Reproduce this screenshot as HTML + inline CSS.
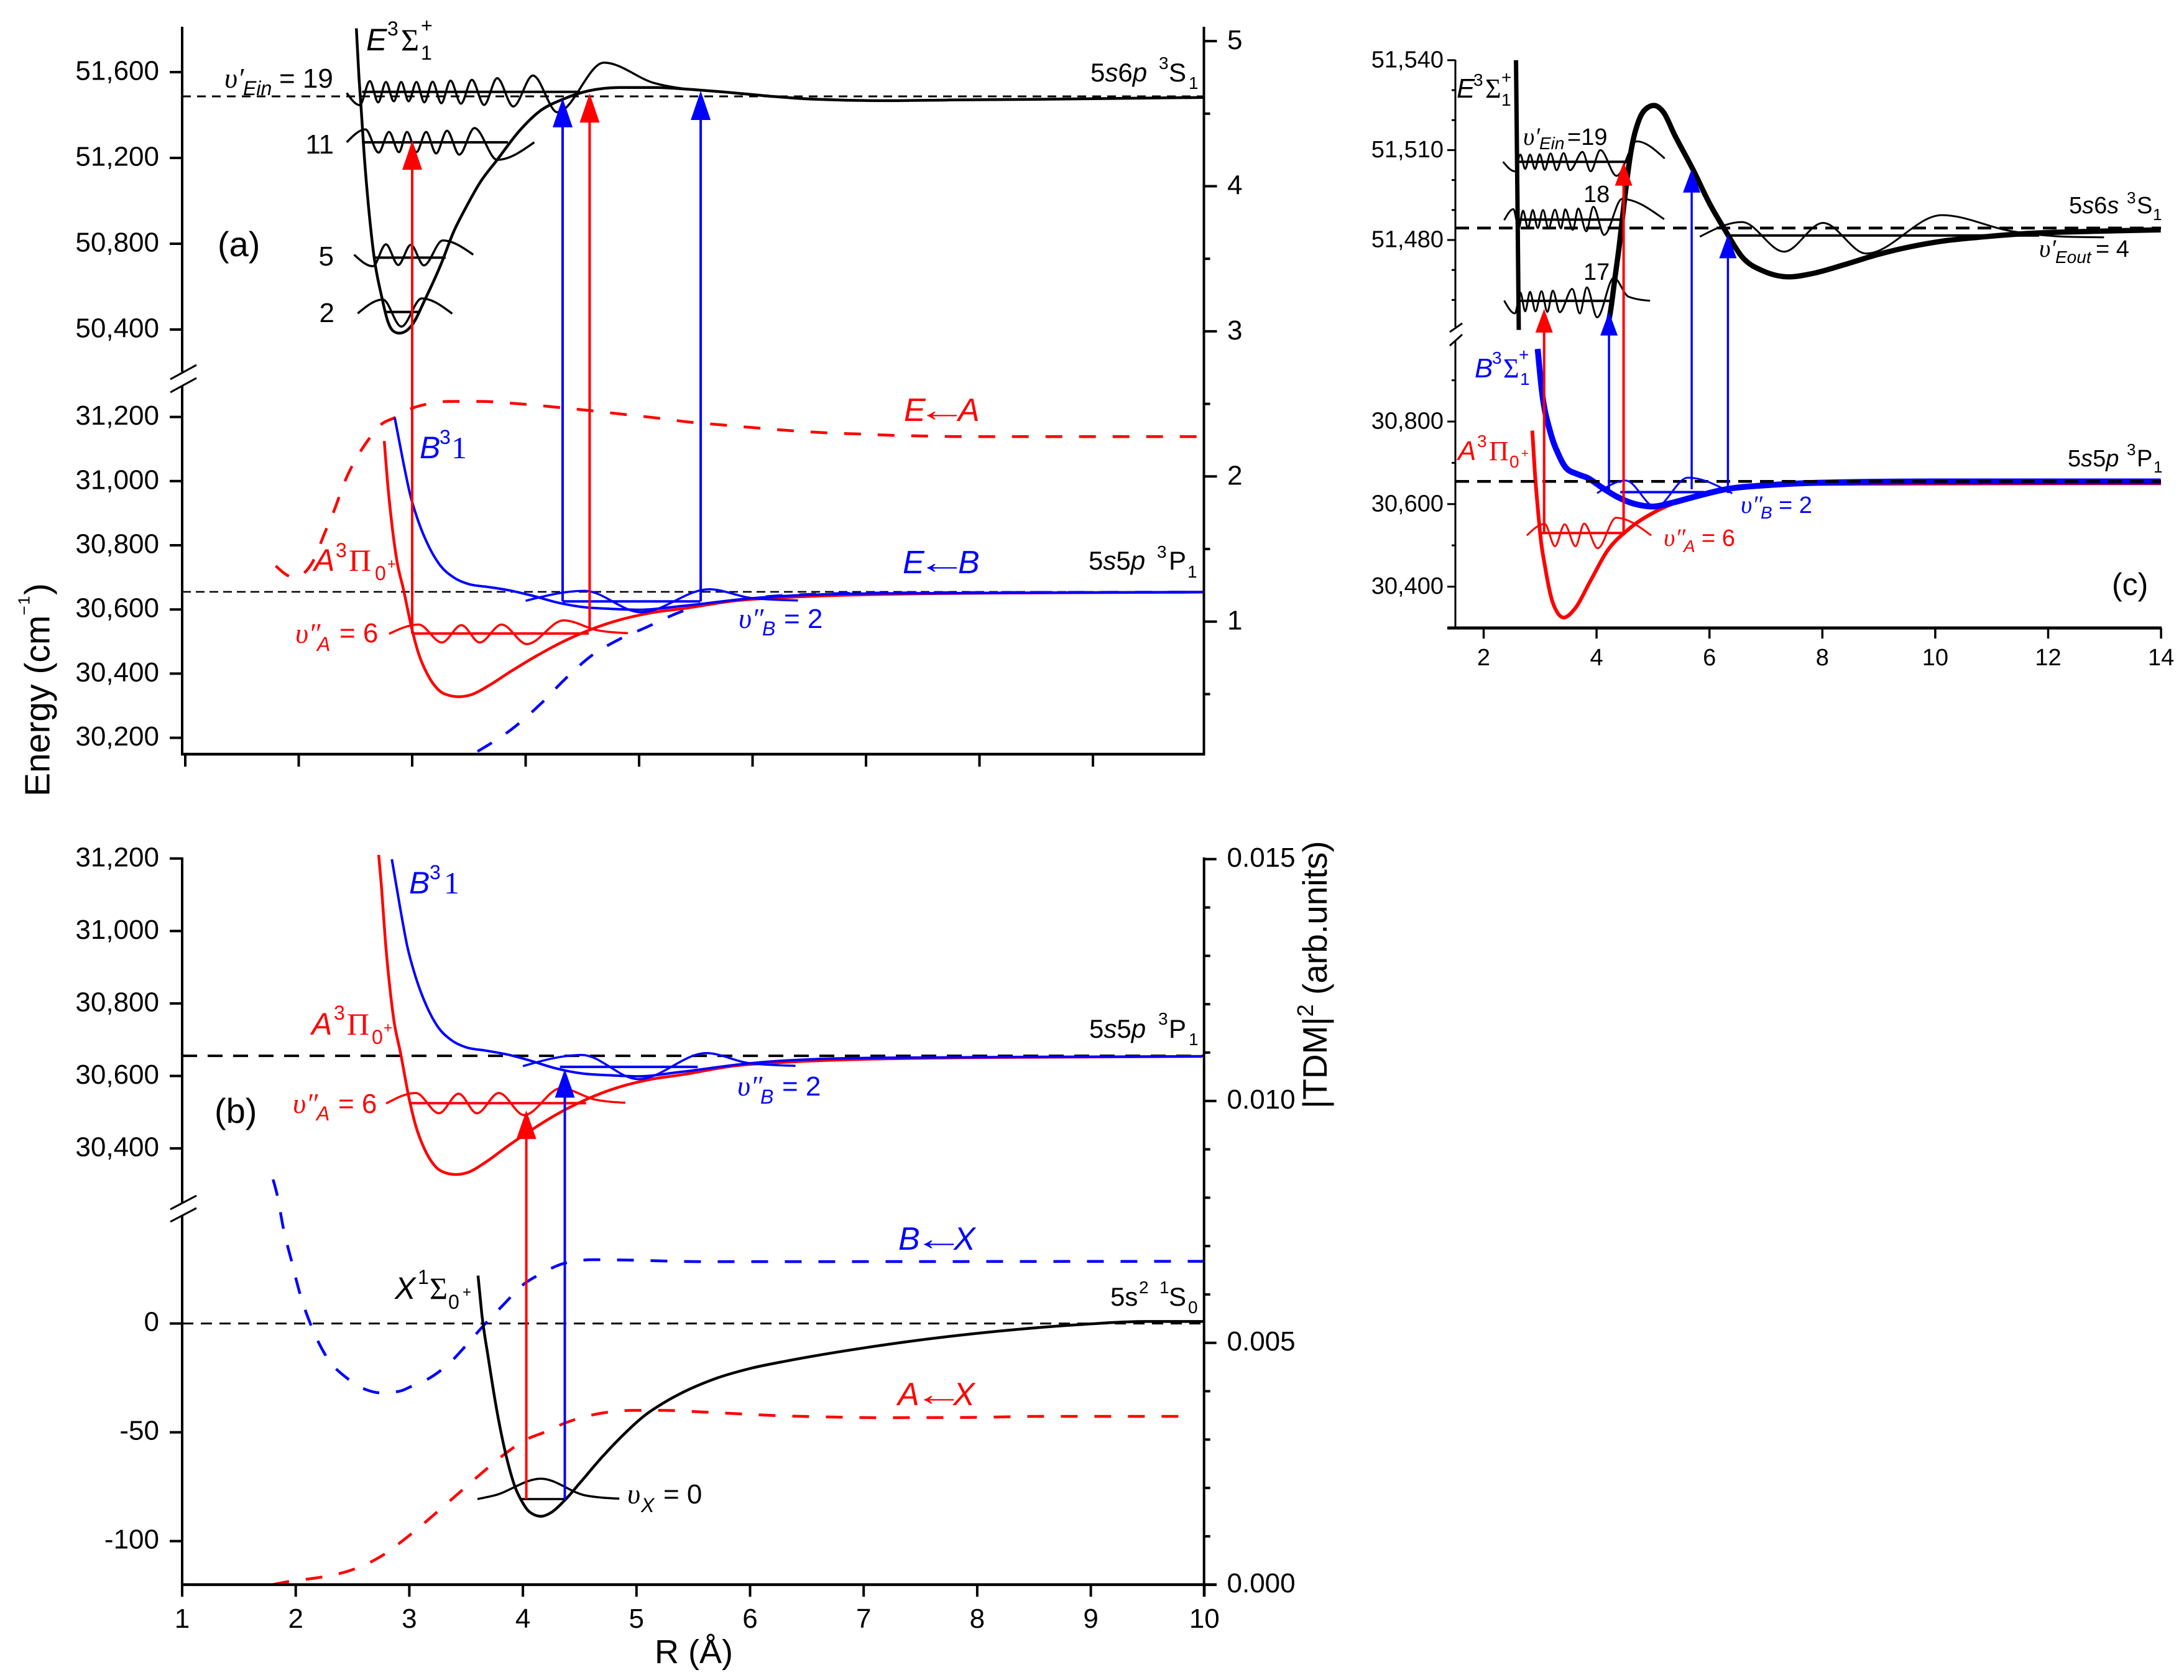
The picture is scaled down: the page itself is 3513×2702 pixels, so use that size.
<!DOCTYPE html>
<html>
<head>
<meta charset="utf-8">
<title>Potential energy curves and transition dipole moments</title>
<style>
html,body{margin:0;padding:0;background:#fff;}
svg{display:block;}
text{font-family:"Liberation Sans",sans-serif;fill:#000;}
.i{font-style:italic;}
.g{font-family:"Liberation Serif",serif;}
.u{font-family:"Liberation Serif",serif;font-style:italic;}
.r,.r text{fill:#f00;}
.b,.b text{fill:#00f;}
</style>
</head>
<body>
<svg id="chart" xmlns="http://www.w3.org/2000/svg" width="3513" height="2702" viewBox="0 0 3513 2702">
<rect width="3513" height="2702" fill="#fff"/>
<g id="marks"></g>

<!-- Axis titles -->
<text transform="translate(79.5,1281) rotate(-90)" font-size="57">Energy (cm<tspan font-size="26" dy="-32" letter-spacing="1.5">−1</tspan><tspan dy="32">)</tspan></text>
<text transform="translate(2134,1783) rotate(-90)" font-size="55">|TDM|<tspan font-size="36" dy="-22">2</tspan><tspan dy="22"> (arb.units)</tspan></text>
<text x="1053" y="2675" font-size="54">R (Å)</text>

<!-- Panel a labels -->
<g>
<text x="350" y="412" font-size="56">(a)</text>
<g><text class="i" x="589" y="81" font-size="50">E</text><text x="623" y="57" font-size="32">3</text><text class="g" x="645" y="81" font-size="50">Σ</text><text x="677" y="52" font-size="32">+</text><text x="677" y="96" font-size="32">1</text></g>
<g><text class="u" x="361" y="141" font-size="46">υ′</text><text class="i" x="391" y="153" font-size="32">Ein</text><text x="449" y="141" font-size="44">= 19</text></g>
<text x="537" y="247" font-size="44" text-anchor="end">11</text>
<text x="537" y="427" font-size="44" text-anchor="end">5</text>
<text x="538" y="518" font-size="44" text-anchor="end">2</text>
<g><text x="1754" y="131" font-size="42">5<tspan class="i">s</tspan>6<tspan class="i">p</tspan></text><text x="1864" y="111" font-size="28">3</text><text x="1880" y="131" font-size="42">S</text><text x="1912" y="143" font-size="28">1</text></g>
<g><text x="1751" y="916" font-size="42">5<tspan class="i">s</tspan>5<tspan class="i">p</tspan></text><text x="1861" y="897" font-size="28">3</text><text x="1880" y="916" font-size="42">P</text><text x="1910" y="929" font-size="28">1</text></g>
<g class="r"><text class="i" x="1454" y="677" font-size="52">E</text><text class="g" transform="translate(1475,677) scale(1.55,1)" font-size="52">←</text><text class="i" x="1541" y="677" font-size="52">A</text></g>
<g class="b"><text class="i" x="1452" y="922" font-size="52">E</text><text class="g" transform="translate(1475,922) scale(1.55,1)" font-size="52">←</text><text class="i" x="1541" y="922" font-size="52">B</text></g>
<g class="b"><text class="i" x="675" y="737" font-size="50">B</text><text x="707" y="714" font-size="32">3</text><text class="g" x="726" y="737" font-size="50">1</text></g>
<g class="r"><text class="i" x="505" y="918" font-size="50">A</text><text x="540" y="896" font-size="32">3</text><text class="g" x="561" y="918" font-size="50">Π</text><text x="603" y="933" font-size="32">0</text><text x="623" y="915" font-size="24">+</text></g>
<g class="r"><text class="u" x="475" y="1034" font-size="46">υ″</text><text class="i" x="510" y="1047" font-size="32">A</text><text x="546" y="1033" font-size="44">= 6</text></g>
<g class="b"><text class="u" x="1188" y="1010" font-size="46">υ″</text><text class="i" x="1226" y="1022" font-size="32">B</text><text x="1261" y="1010" font-size="44">= 2</text></g>
</g>

<!-- Panel b labels -->
<g>
<text x="345" y="1806" font-size="56">(b)</text>
<g class="b"><text class="i" x="658" y="1437" font-size="50">B</text><text x="691" y="1414" font-size="32">3</text><text class="g" x="714" y="1437" font-size="50">1</text></g>
<g class="r"><text class="i" x="501" y="1664" font-size="50">A</text><text x="537" y="1640" font-size="32">3</text><text class="g" x="558" y="1664" font-size="50">Π</text><text x="598" y="1679" font-size="32">0</text><text x="617" y="1661" font-size="24">+</text></g>
<g class="r"><text class="u" x="471" y="1790" font-size="46">υ″</text><text class="i" x="509" y="1802" font-size="32">A</text><text x="544" y="1790" font-size="44">= 6</text></g>
<g class="b"><text class="u" x="1186" y="1762" font-size="46">υ″</text><text class="i" x="1223" y="1775" font-size="32">B</text><text x="1258" y="1762" font-size="44">= 2</text></g>
<g><text x="1752" y="1669" font-size="42">5<tspan class="i">s</tspan>5<tspan class="i">p</tspan></text><text x="1863" y="1648" font-size="28">3</text><text x="1880" y="1669" font-size="42">P</text><text x="1912" y="1681" font-size="28">1</text></g>
<g><text class="i" x="635" y="2089" font-size="50">X</text><text x="672" y="2065" font-size="32">1</text><text class="g" x="691" y="2089" font-size="50">Σ</text><text x="721" y="2105" font-size="32">0</text><text x="744" y="2086" font-size="24">+</text></g>
<g class="b"><text class="i" x="1445" y="2010" font-size="52">B</text><text class="g" transform="translate(1470,2010) scale(1.55,1)" font-size="52">←</text><text class="i" x="1534" y="2010" font-size="52">X</text></g>
<g class="r"><text class="i" x="1444" y="2260" font-size="52">A</text><text class="g" transform="translate(1470,2260) scale(1.55,1)" font-size="52">←</text><text class="i" x="1533" y="2260" font-size="52">X</text></g>
<g><text x="1786" y="2100" font-size="42">5s</text><text x="1832" y="2080" font-size="28">2</text><text x="1865" y="2080" font-size="28">1</text><text x="1880" y="2100" font-size="42">S</text><text x="1911" y="2112" font-size="28">0</text></g>
<g><text class="u" x="1009" y="2418" font-size="46">υ</text><text class="i" x="1031" y="2432" font-size="32">X</text><text x="1067" y="2418" font-size="44">= 0</text></g>
</g>

<!-- Panel c labels -->
<g>
<text x="3397" y="957" font-size="50">(c)</text>
<g><text class="i" x="2343" y="157" font-size="44">E</text><text x="2370" y="138" font-size="28">3</text><text class="g" x="2389" y="157" font-size="44">Σ</text><text x="2415" y="134" font-size="28">+</text><text x="2415" y="170" font-size="28">1</text></g>
<g><text class="u" x="2450" y="233" font-size="40">υ′</text><text class="i" x="2476" y="240" font-size="28">Ein</text><text x="2521" y="233" font-size="38">=19</text></g>
<text x="2547" y="325" font-size="38">18</text>
<text x="2547" y="450" font-size="38">17</text>
<g><text x="3328" y="343" font-size="38">5<tspan class="i">s</tspan>6<tspan class="i">s</tspan></text><text x="3421" y="327" font-size="26">3</text><text x="3437" y="343" font-size="38">S</text><text x="3463" y="354" font-size="26">1</text></g>
<g><text class="u" x="3280" y="413" font-size="40">υ′</text><text class="i" x="3306" y="423" font-size="28">Eout</text><text x="3371" y="413" font-size="38">= 4</text></g>
<g class="b"><text class="i" x="2372" y="607" font-size="44">B</text><text x="2400" y="585" font-size="28">3</text><text class="g" x="2418" y="607" font-size="44">Σ</text><text x="2443" y="580" font-size="28">+</text><text x="2445" y="619" font-size="28">1</text></g>
<g class="r"><text class="i" x="2345" y="740" font-size="44">A</text><text x="2376" y="719" font-size="28">3</text><text class="g" x="2395" y="740" font-size="44">Π</text><text x="2428" y="752" font-size="28">0</text><text x="2447" y="736" font-size="20">+</text></g>
<g><text x="3326" y="750" font-size="38">5<tspan class="i">s</tspan>5<tspan class="i">p</tspan></text><text x="3421" y="732" font-size="26">3</text><text x="3437" y="750" font-size="38">P</text><text x="3464" y="760" font-size="26">1</text></g>
<g class="b"><text class="u" x="2800" y="825" font-size="40">υ″</text><text class="i" x="2832" y="834" font-size="28">B</text><text x="2861" y="825" font-size="38">= 2</text></g>
<g class="r"><text class="u" x="2676" y="878" font-size="40">υ″</text><text class="i" x="2708" y="888" font-size="28">A</text><text x="2737" y="878" font-size="38">= 6</text></g>
</g>
</svg>

<script>
// ---------- Potential curves (R in angstrom, energy in cm-1) ----------
const eStateR=[2.508,2.531,2.55,2.577,2.615,2.665,2.731,2.788,2.827,2.884,2.942,3.0,3.115,3.25,3.365,3.48,3.595,3.749,3.94,4.13,4.326,4.557,4.826,5.133,5.539,5.885,6.19,6.577,7.153,7.73,8.5,9.98];
const eStateE=[51804,51576,51431,51215,50975,50735,50554,50434,50396,50383,50392,50422,50542,50699,50855,50975,51083,51191,51323,51420,51473,51513,51528,51528,51516,51501,51486,51473,51467,51470,51473,51482];

const aStateR=[2.73,2.754,2.788,2.827,2.865,2.923,3.0,3.057,3.134,3.23,3.326,3.411,3.518,3.672,3.865,4.095,4.326,4.556,4.825,5.133,5.394,5.846,6.385,7.153,8.115,9.98];
const aStateE=[31210,31125,30977,30848,30752,30663,30535,30462,30398,30350,30332,30328,30334,30362,30406,30455,30499,30535,30567,30591,30603,30627,30639,30647,30651,30654];

const bStateR=[2.846,2.923,2.98,3.057,3.153,3.25,3.365,3.499,3.672,3.865,4.057,4.288,4.518,4.749,5.018,5.385,6.0,6.538,7.153,9.98];
const bStateE=[31198,31057,30961,30872,30792,30736,30700,30679,30670,30659,30643,30621,30607,30602,30599,30611,30635,30646,30650,30654];

const xStateR=[3.605,3.639,3.697,3.755,3.812,3.87,3.927,3.985,4.061,4.158,4.254,4.369,4.503,4.695,4.887,5.079,5.271,5.415,5.708,6.0,6.336,7.006,7.97,8.85,9.478,9.998];
const xStateE=[22,4.1,-16.3,-35.3,-51.3,-64.4,-74.6,-81.2,-86.7,-88.6,-86.7,-81.2,-73.2,-61.5,-51,-42,-35.5,-31.5,-25.1,-20.7,-17.1,-11.2,-4.7,-0.7,0.9,0.9];

// ---------- Transition moments ----------
const tdmEaR=[1.797,1.962,2.116,2.231,2.308,2.404,2.538,2.615,2.731,2.846,2.98,3.134,3.326,3.595,3.903,4.288,4.556,4.864,5.135,5.462,5.731,6.039,6.327,6.615,6.923,7.211,7.5,7.807,8.691,9.98];
const tdmEaV=[1.384,1.304,1.402,1.615,1.757,1.961,2.165,2.254,2.361,2.405,2.464,2.499,2.517,2.517,2.503,2.476,2.455,2.428,2.405,2.373,2.355,2.334,2.316,2.302,2.293,2.284,2.279,2.275,2.274,2.274];
const tdmEbR=[3.576,3.903,4.134,4.345,4.576,4.825,5.056,5.385,6.0,6.538,7.153,9.98];
const tdmEbV=[0.105,0.274,0.434,0.602,0.762,0.878,0.958,1.073,1.162,1.188,1.197,1.203];
// thousandths of arb. units
const tdmBxR=[1.8,1.838,1.892,1.962,2.038,2.13,2.257,2.468,2.622,2.756,2.91,3.025,3.179,3.39,3.505,3.678,3.812,4.023,4.139,4.369,4.619,4.888,5.54,6.127,9.998];
const tdmBxV=[8.377,8.043,7.354,6.699,6.01,5.387,4.764,4.239,4.029,3.964,3.997,4.108,4.272,4.666,4.961,5.42,5.748,6.24,6.403,6.646,6.718,6.712,6.679,6.679,6.685];
const tdmAxR=[1.796,1.93,2.219,2.468,2.737,2.987,3.236,3.428,3.62,3.831,4.023,4.196,4.369,4.657,4.964,5.247,5.582,5.917,6.21,6.713,7.09,7.97,8.556,9.834];
const tdmAxV=[0,0.062,0.154,0.285,0.567,0.993,1.485,1.878,2.272,2.685,2.993,3.157,3.341,3.531,3.603,3.603,3.57,3.531,3.498,3.466,3.452,3.459,3.479,3.479];

// ---------- Vibrational wavefunctions ----------
const wE19R=[2.423,2.538,2.627,2.7,2.769,2.838,2.903,2.969,3.038,3.107,3.18,3.257,3.338,3.43,3.526,3.634,3.749,3.891,4.064,4.28,4.691,5.133,5.539];
const wE19E=[51503,51446,51558,51459,51554,51464,51554,51464,51554,51459,51555,51455,51560,51453,51564,51447,51572,51440,51584,51413,51644,51549,51515];
const wE11R=[2.423,2.588,2.704,2.796,2.884,2.954,3.038,3.123,3.211,3.307,3.415,3.549,3.749,4.076];
const wE11E=[51273,51333,51225,51321,51227,51321,51227,51321,51221,51327,51215,51339,51191,51273];
const wE5R=[2.488,2.654,2.769,2.877,2.988,3.103,3.269,3.538];
const wE5E=[50749,50695,50797,50701,50795,50699,50815,50749];
const wE2R=[2.52,2.742,2.904,3.084,3.353];
const wE2E=[50475,50540,50414,50545,50474];
const wA6R=[2.796,3.057,3.261,3.434,3.595,3.788,4.011,4.334,4.634,4.902];
const wA6E=[30524,30553,30497,30551,30497,30553,30492,30566,30535,30526];
const wB2R=[4.0,4.518,5.018,5.616,6.0,6.4];
const wB2E=[30627,30658,30591,30663,30635,30628];
const wX0R=[3.6,3.75,4.158,4.55,4.849];
const wX0E=[-80.7,-79,-71.3,-79,-80.5];

// ---------- Vibrational levels ----------
const eLevelE=[51508,51273,50735,50482];
const eLevelFrom=[2.558,2.558,2.665,2.769];
const eLevelTo=[4.48,3.845,3.295,3.057];
const aLevelE=30525;
const aLevelFrom=3.0;
const aLevelTo=4.556;
const bLevelE=30625;
const bLevelFrom=4.326;
const bLevelTo=5.539;
const xLevelE=-80.7;
const xLevelFrom=3.985;
const xLevelTo=4.369;

// ---------- Transition arrows ----------
const aRedR=[3.0,4.564];
const aRedFrom=[30525,30535];
const aRedTo=[51281,51501];
const aBlueR=[4.326,5.543];
const aBlueFrom=[30625,30625];
const aBlueTo=[51479,51513];
const bRedR=[4.03];
const bRedFrom=[-80.7];
const bRedTo=[30505];
const bBlueR=[4.369];
const bBlueFrom=[-81];
const bBlueTo=[30619];
const cRedR=[3.071,4.479];
const cRedFrom=[30530,30530];
const cRedTo=[51457,51506];
const cBlueR=[4.22,5.685,6.327];
const cBlueFrom=[30629,30636,30627];
const cBlueTo=[51456,51503.7,51481.8];

// ---------- Panel c curves ----------
const cInnerR=[2.573,2.622];
const cInnerE=[51540,51450];
const cOuterR=[4.153,4.23,4.326,4.402,4.469,4.613,4.757,4.871,5.015,5.187,5.379,5.714,6.001,6.288,6.576,6.958,7.418,7.82,8.395,8.969,9.544,10.118,10.884,11.65,12.8,13.995];
const cOuterE=[51450,51454.4,51467.4,51478.1,51489.2,51510,51520.3,51523.7,51524.9,51522.6,51515.2,51503.3,51492.2,51482.9,51474.4,51469.6,51467.7,51468.8,51471.8,51475.1,51477.7,51479.6,51481.1,51482.2,51482.9,51483.4];
const cAR=[2.861,2.909,2.957,3.014,3.081,3.225,3.416,3.607,3.895,4.182,4.565,5.044,5.618,6.288,7.054,8.012,14];
const cAE=[30778,30673,30593,30512,30453,30361,30325,30345,30415,30485,30539,30582,30614,30638,30647,30649,30650.5];
const cBR=[2.957,3.033,3.177,3.32,3.464,3.655,3.847,4.086,4.374,4.661,4.996,5.331,5.714,6.288,7.054,8.012,9.926,13.995];
const cBE=[30976,30872,30776,30722,30687,30673,30663,30641,30617,30601,30594,30603,30617,30636,30646,30652,30655,30655];
const cW19R=[2.344,2.554,2.65,2.736,2.822,2.909,2.995,3.081,3.186,3.292,3.416,3.531,3.751,3.895,4.067,4.354,4.709,5.207];
const cW19E=[51506.1,51502.9,51508.5,51503.7,51508.5,51503.7,51508.6,51503.4,51508.9,51503.3,51509,51503.3,51509.4,51502.9,51510,51501.4,51512.9,51507.2];
const cW18R=[2.363,2.526,2.621,2.698,2.784,2.87,2.957,3.052,3.148,3.263,3.368,3.445,3.579,3.675,3.818,3.943,4.134,4.45,5.197];
const cW18E=[51486.6,51490.3,51484,51489.8,51484,51490,51484,51490,51483.9,51490.1,51483.9,51490.2,51483.4,51490.5,51482.9,51491.1,51481.7,51493.7,51486.9];
const cW17R=[2.363,2.554,2.65,2.736,2.822,2.918,3.024,3.129,3.225,3.349,3.569,3.703,3.828,4.01,4.306,4.565,4.948];
const cW17E=[51459.8,51455.5,51462.5,51456.2,51462.7,51456.2,51462.9,51456,51463.1,51455.9,51463.7,51455.5,51464.2,51454.2,51467.4,51461.1,51459.7];
const cWoutR=[5.829,6.576,7.322,8.012,8.778,10.118,11.363,12.32,12.99];
const cWoutE=[51481.1,51486,51476.1,51485.7,51475.5,51488.3,51482.9,51481.1,51480.9];
const cWaR=[2.765,3.081,3.263,3.435,3.627,3.78,4.019,4.345,4.967];
const cWaE=[30524,30552,30498,30551,30498,30553,30493,30567,30524];
const cWbR=[4.01,4.517,5.044,5.618,6.403];
const cWbE=[30626.5,30657,30593,30664,30626];
const cLevelE=[51506.1,51486.8,51459.7,51481.5];
const cLevelFrom=[2.6,2.6,2.65,6.336];
const cLevelTo=[4.565,4.42,4.26,11.84];

// ---------- Tick values and labels ----------
const aUpperTicks=[51600,51200,50800,50400];
const aUpperLabels=["51,600","51,200","50,800","50,400"];
const aLowerTicks=[31200,31000,30800,30600,30400,30200];
const aLowerLabels=["31,200","31,000","30,800","30,600","30,400","30,200"];
const aRightTicks=[5,4,3,2,1];
const aRightLabels=["5","4","3","2","1"];
const aRightMinor=[4.5,3.5,2.5,1.5,0.5];
const rTicksA=[1,2,3,4,5,6,7,8,9];
const rTicksB=[1,2,3,4,5,6,7,8,9,10];
const rLabelsB=["1","2","3","4","5","6","7","8","9","10"];
const bUpperTicks=[31200,31000,30800,30600,30400];
const bUpperLabels=["31,200","31,000","30,800","30,600","30,400"];
const bLowerTicks=[0,-50,-100];
const bLowerLabels=["0","-50","-100"];
const bRightTicks=[15,10,5,0];
const bRightLabels=["0.015","0.010","0.005","0.000"];
const bRightMinor=[14,13,12,11,9,8,7,6,4,3,2,1];
const cUpperTicks=[51540,51510,51480];
const cUpperLabels=["51,540","51,510","51,480"];
const cUpperMinor=[51530,51520,51500,51490,51470,51460];
const cLowerTicks=[30800,30600,30400];
const cLowerLabels=["30,800","30,600","30,400"];
const cLowerMinor=[30900,30700,30500];
const rTicksC=[2,4,6,8,10,12,14];
const rLabelsC=["2","4","6","8","10","12","14"];

// ---------- Axis functions ----------
const aX=R=>298+(R-1)*182.5;
const aUp=E=>116+(51600-E)*0.345;
const aLow=E=>670.6+(31200-E)*0.516;
const aRight=V=>999.7-(V-1)*233.4;
const bX=R=>293+(R-1)*182.7;
const bUp=E=>1380.8+(31200-E)*0.5828;
const bLow=E=>2128.6-E*3.5;
const bRight=T=>2548.7-T*77.8;
const cX=R=>2386.5+(R-2)*90.8;
const cUp=E=>96.8+(51540-E)*4.82;
const cLow=E=>678+(30800-E)*0.6638;

const NS='http://www.w3.org/2000/svg';
const marks=document.getElementById('marks');
const RED='#ff0000',BLUE='#0000ff',BLACK='#000000';

function monotonePath(xs,ys){
  const n=xs.length;
  if(n===2) return 'M'+xs[0]+','+ys[0]+'L'+xs[1]+','+ys[1];
  const s=[],t=[];
  for(let i=0;i<n-1;i++) s.push((ys[i+1]-ys[i])/(xs[i+1]-xs[i]));
  for(let i=1;i<n-1;i++){
    const h0=xs[i]-xs[i-1],h1=xs[i+1]-xs[i];
    const p=(s[i-1]*h1+s[i]*h0)/(h0+h1);
    t[i]=(Math.sign(s[i-1])+Math.sign(s[i]))*Math.min(Math.abs(s[i-1]),Math.abs(s[i]),0.5*Math.abs(p));
  }
  t[0]=(3*s[0]-t[1])/2;
  t[n-1]=(3*s[n-2]-t[n-2])/2;
  let d='M'+xs[0].toFixed(1)+','+ys[0].toFixed(1);
  for(let i=0;i<n-1;i++){
    const dx=(xs[i+1]-xs[i])/3;
    d+='C'+(xs[i]+dx).toFixed(1)+','+(ys[i]+dx*t[i]).toFixed(1)+' '+(xs[i+1]-dx).toFixed(1)+','+(ys[i+1]-dx*t[i+1]).toFixed(1)+' '+xs[i+1].toFixed(1)+','+ys[i+1].toFixed(1);
  }
  return d;
}
function curve(name,rs,vs,xf,yf,color,w,dash){
  const el=document.createElementNS(NS,'path');
  el.setAttribute('d',monotonePath(rs.map(xf),vs.map(yf)));
  el.setAttribute('fill','none');
  el.setAttribute('stroke',color);
  el.setAttribute('stroke-width',w);
  if(dash) el.setAttribute('stroke-dasharray',dash);
  
  
  marks.appendChild(el);
}
function seg(name,x1,y1,x2,y2,color,w,dash){
  const el=document.createElementNS(NS,'line');
  el.setAttribute('x1',x1);
  el.setAttribute('y1',y1);
  el.setAttribute('x2',x2);
  el.setAttribute('y2',y2);
  el.setAttribute('stroke',color);
  el.setAttribute('stroke-width',w);
  if(dash) el.setAttribute('stroke-dasharray',dash);
  
  
  marks.appendChild(el);
}
function label(name,x,y,str,size,anchor){
  const el=document.createElementNS(NS,'text');
  el.setAttribute('x',x);
  el.setAttribute('y',y);
  el.setAttribute('font-size',size);
  el.setAttribute('text-anchor',anchor);
  el.textContent=str;
  
  
  marks.appendChild(el);
}
function arrows(name,rs,from,to,xf,yFrom,yTo,color,w,hw,hh){
  rs.forEach((r,i)=>{
    const x=xf(r),y0=yFrom(from[i]),y1=yTo(to[i]);
    seg(name+'-shaft',x,y0,x,y1+hh-1,color,w);
    const head=document.createElementNS(NS,'polygon');
    head.setAttribute('points',x+','+y1+' '+(x+hw)+','+(y1+hh)+' '+(x-hw)+','+(y1+hh));
    head.setAttribute('fill',color);
    
    
    marks.appendChild(head);
  });
}
function yAxisTicks(name,vals,labels,yf,xAxis,len,w,labelX,anchor,size,off){
  vals.forEach((v,i)=>{
    const y=yf(v);
    seg(name+'-tick',xAxis,y,xAxis+len,y,BLACK,w);
    if(labels) label(name+'-label',labelX,y+off,labels[i],size,anchor);
  });
}
function xAxisTicks(name,vals,labels,xf,y0,y1,w,labelY,size){
  vals.forEach((v,i)=>{
    const x=xf(v);
    seg(name+'-tick',x,y0,x,y1,BLACK,w);
    if(labels) label(name+'-label',x,labelY,labels[i],size,'middle');
  });
}
function breakMark(name,x1,x2,ys){
  ys.forEach(p=>seg(name,x1,p[0],x2,p[1],BLACK,3));
}

/* ---------- PANEL A ---------- */
curve('e-state-curve',eStateR,eStateE,aX,aUp,BLACK,4.5);
seg('e-dissociation-dashed',293,aUp(51487),1936,aUp(51487),BLACK,3,'14 10');
eLevelE.forEach((e,i)=>{seg('e-vibrational-level',aX(eLevelFrom[i]),aUp(e),aX(eLevelTo[i]),aUp(e),BLACK,4);});
curve('e-wavefunction-19',wE19R,wE19E,aX,aUp,BLACK,3.5);
curve('e-wavefunction-11',wE11R,wE11E,aX,aUp,BLACK,3.5);
curve('e-wavefunction-5',wE5R,wE5E,aX,aUp,BLACK,3.5);
curve('e-wavefunction-2',wE2R,wE2E,aX,aUp,BLACK,3.5);
seg('p-state-dashed-a',293,aLow(30655),1936,aLow(30655),BLACK,2.5,'14 8');
curve('e-a-tdm-curve',tdmEaR,tdmEaV,aX,aRight,RED,4.5,'27 27');
curve('e-b-tdm-curve',tdmEbR,tdmEbV,aX,aRight,BLUE,4.5,'27 27');
curve('a-state-curve-a',aStateR.slice(1),aStateE.slice(1),aX,aLow,RED,4.5);
curve('b-state-curve-a',bStateR,bStateE,aX,aLow,BLUE,4);
seg('a-level-a',aX(aLevelFrom),aLow(aLevelE),aX(aLevelTo),aLow(aLevelE),RED,4);
curve('a-wavefunction-a',wA6R,wA6E,aX,aLow,RED,3.5);
seg('b-level-a',aX(bLevelFrom),aLow(bLevelE),aX(bLevelTo),aLow(bLevelE),BLUE,4);
curve('b-wavefunction-a',wB2R,wB2E,aX,aLow,BLUE,3.5);
arrows('red-transition-a',aRedR,aRedFrom,aRedTo,aX,aLow,aUp,RED,4,16,47);
arrows('blue-transition-a',aBlueR,aBlueFrom,aBlueTo,aX,aLow,aUp,BLUE,4,16,47);

seg('y-axis-left-a-upper',293,43,293,598,BLACK,4);
seg('y-axis-left-a-lower',293,620,293,1213,BLACK,4);
breakMark('axis-break-a',274,316,[[610,587],[631,608]]);
seg('y-axis-right-a',1936.5,43,1936.5,1215,BLACK,4);
seg('x-axis-a',291,1213,1938,1213,BLACK,4.5);
yAxisTicks('y-upper-a',aUpperTicks,aUpperLabels,aUp,293,-20,4,256,'end',44,12.5);
yAxisTicks('y-lower-a',aLowerTicks,aLowerLabels,aLow,293,-20,4,256,'end',44,12.5);
yAxisTicks('y-right-a',aRightTicks,aRightLabels,aRight,1936.5,21,4,1974,'start',44,13);
yAxisTicks('y-right-minor-a',aRightMinor,null,aRight,1936.5,10,4);
xAxisTicks('x-a',rTicksA,null,aX,1213,1233,4);

/* ---------- PANEL B ---------- */
seg('p-state-dashed-b',293,bUp(30655.6),1936,bUp(30655.6),BLACK,4,'24 17');
curve('a-state-curve-b',aStateR,aStateE,bX,bUp,RED,4.5);
curve('b-state-curve-b',bStateR,bStateE,bX,bUp,BLUE,4);
seg('a-level-b',bX(aLevelFrom),bUp(aLevelE),bX(aLevelTo),bUp(aLevelE),RED,4);
curve('a-wavefunction-b',wA6R,wA6E,bX,bUp,RED,3.5);
seg('b-level-b',bX(bLevelFrom),bUp(bLevelE),bX(bLevelTo),bUp(bLevelE),BLUE,4);
curve('b-wavefunction-b',wB2R,wB2E,bX,bUp,BLUE,3.5);
seg('s-state-dashed',293,bLow(0),1936,bLow(0),BLACK,3,'18 12');
curve('b-x-tdm-curve',tdmBxR,tdmBxV,bX,bRight,BLUE,4.5,'27 27');
curve('a-x-tdm-curve',tdmAxR,tdmAxV,bX,bRight,RED,4.5,'27 27');
curve('x-state-curve',xStateR,xStateE,bX,bLow,BLACK,4.5);
seg('x-level',bX(xLevelFrom),bLow(xLevelE),bX(xLevelTo),bLow(xLevelE),BLACK,3.5);
curve('x-wavefunction',wX0R,wX0E,bX,bLow,BLACK,3.5);
arrows('red-transition-b',bRedR,bRedFrom,bRedTo,bX,bLow,bUp,RED,4,16,46);
arrows('blue-transition-b',bBlueR,bBlueFrom,bBlueTo,bX,bLow,bUp,BLUE,4,16,46);

seg('y-axis-left-b-upper',293,1379,293,1934,BLACK,4);
seg('y-axis-left-b-lower',293,1954,293,2568,BLACK,4);
breakMark('axis-break-b',274,316,[[1945,1923],[1965,1943]]);
seg('y-axis-right-b',1936.7,1379,1936.7,2568,BLACK,4);
seg('x-axis-b',291,2548.6,1957,2548.6,BLACK,4.5);
yAxisTicks('y-upper-b',bUpperTicks,bUpperLabels,bUp,293,-20,4,256,'end',44,12.5);
yAxisTicks('y-lower-b',bLowerTicks,bLowerLabels,bLow,293,-20,4,256,'end',44,12);
yAxisTicks('y-right-b',bRightTicks,bRightLabels,bRight,1936.7,20,4,1973.5,'start',44,12.5);
yAxisTicks('y-right-minor-b',bRightMinor,null,bRight,1936.7,10,4);
xAxisTicks('x-b',rTicksB,rLabelsB,bX,2548,2568,4,2618,44);

/* ---------- PANEL C ---------- */
curve('c-a-state-curve',cAR,cAE,cX,cLow,RED,6);
curve('c-b-state-curve',cBR,cBE,cX,cLow,BLUE,9.5);
seg('c-p-state-dashed',2341,cLow(30655),3476,cLow(30655),BLACK,4.5,'22 13');
seg('c-s-state-dashed',2341,cUp(51484),3476,cUp(51484),BLACK,4.5,'22 13');
curve('c-e-inner-wall',cInnerR,cInnerE,cX,cUp,BLACK,7);
curve('c-e-outer-wall',cOuterR,cOuterE,cX,cUp,BLACK,8.5);
cLevelE.forEach((e,i)=>{seg('c-e-vibrational-level',cX(cLevelFrom[i]),cUp(e),cX(cLevelTo[i]),cUp(e),BLACK,4);});
curve('c-wavefunction-19',cW19R,cW19E,cX,cUp,BLACK,3);
curve('c-wavefunction-18',cW18R,cW18E,cX,cUp,BLACK,3);
curve('c-wavefunction-17',cW17R,cW17E,cX,cUp,BLACK,3);
curve('c-wavefunction-out',cWoutR,cWoutE,cX,cUp,BLACK,3);
seg('c-a-level',cX(2.985),cLow(30530),cX(4.517),cLow(30530),RED,4);
curve('c-a-wavefunction',cWaR,cWaE,cX,cLow,RED,3);
seg('c-b-level',cX(4.42),cLow(30629),cX(5.905),cLow(30629),BLUE,4);
curve('c-b-wavefunction',cWbR,cWbE,cX,cLow,BLUE,3);
arrows('c-red-transition',cRedR,cRedFrom,cRedTo,cX,cLow,cUp,RED,4,14,38);
arrows('c-blue-transition',cBlueR,cBlueFrom,cBlueTo,cX,cLow,cUp,BLUE,3.5,14,38);

seg('c-y-axis-upper',2341,96,2341,526,BLACK,3);
seg('c-y-axis-lower',2341,548,2341,1010,BLACK,3);
breakMark('c-axis-break',2332,2352,[[534,520],[556,538]]);
seg('c-x-axis',2328,1010,3477,1010,BLACK,5);
yAxisTicks('c-y-upper',cUpperTicks,cUpperLabels,cUp,2341,-13,3,2322,'end',38,11.5);
yAxisTicks('c-y-upper-minor',cUpperMinor,null,cUp,2341,-6,3);
yAxisTicks('c-y-lower',cLowerTicks,cLowerLabels,cLow,2341,-13,3,2322,'end',38,11.5);
yAxisTicks('c-y-lower-minor',cLowerMinor,null,cLow,2341,-6,3);
xAxisTicks('c-x',rTicksC,rLabelsC,cX,1010,1027,3.5,1070,38);
</script>
</body>
</html>
